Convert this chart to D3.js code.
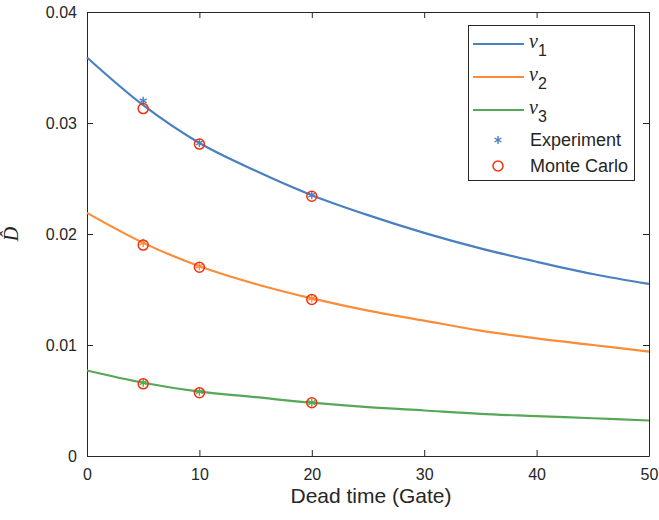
<!DOCTYPE html>
<html>
<head>
<meta charset="utf-8">
<script src="https://cdn.jsdelivr.net/npm/d3@7"></script>
<style>
  body { margin: 0; background: #fff; }
  text { font-family: "Liberation Sans", Arial, sans-serif; }
</style>
</head>
<body>
<div id="chart"></div>
<script>
// Data
var deadTime = [0, 5, 10, 15, 20, 25, 30, 35, 40, 45, 50];
var nu1 = [0.0359, 0.0316, 0.0282, 0.0257, 0.0235, 0.0217, 0.0201, 0.0187, 0.0175, 0.0164, 0.0155];
var nu2 = [0.0219, 0.0192, 0.0171, 0.0155, 0.0142, 0.0131, 0.0122, 0.0113, 0.0106, 0.0100, 0.0094];
var nu3 = [0.0077, 0.0066, 0.0058, 0.0053, 0.0048, 0.0044, 0.0041, 0.0038, 0.0036, 0.0034, 0.0032];

var gates = [5, 10, 20];
var expNu1 = [0.0320, 0.0282, 0.0235];
var expNu2 = [0.0192, 0.0171, 0.0142];
var expNu3 = [0.0066, 0.0058, 0.0048];
var mcNu1 = [0.0313, 0.0281, 0.0234];
var mcNu2 = [0.0190, 0.0170, 0.0141];
var mcNu3 = [0.0065, 0.0057, 0.0048];

var xTicks = [0, 10, 20, 30, 40, 50];
var yTicks = [0, 0.01, 0.02, 0.03, 0.04];

var colors = ["#4a80c0", "#fa8c3a", "#55a855"];
var red = "#f2300f";

var svgWidth = 659, svgHeight = 520;
var margin = { top: 12, right: 10, bottom: 64, left: 87 };
var width = 649 - margin.left;
var height = 456 - margin.top;

var svg = d3.select("#chart").append("svg")
    .attr("width", svgWidth)
    .attr("height", svgHeight);

var g = svg.append("g")
    .attr("transform", `translate(${margin.left}, ${margin.top})`);

var x = d3.scaleLinear().domain([0, 50]).range([0, width]);
var y = d3.scaleLinear().domain([0, 0.04]).range([height, 0]);

var axisColor = "#262626";
var tickFmt = d => d === 0 ? "0" : d3.format(".2f")(d);

// Axes (MATLAB style: ticks inside, box on)
var bottomAxis = g.append("g")
    .attr("transform", `translate(0, ${height})`)
    .call(d3.axisBottom(x).tickValues(xTicks).tickSizeInner(-6).tickSizeOuter(0).tickPadding(13));
var leftAxis = g.append("g")
    .call(d3.axisLeft(y).tickValues(yTicks).tickFormat(tickFmt).tickSizeInner(-6).tickSizeOuter(0).tickPadding(10));
var topAxis = g.append("g")
    .call(d3.axisTop(x).tickValues(xTicks).tickSizeInner(-6).tickSizeOuter(0).tickFormat(""));
var rightAxis = g.append("g")
    .attr("transform", `translate(${width}, 0)`)
    .call(d3.axisRight(y).tickValues(yTicks).tickSizeInner(-6).tickSizeOuter(0).tickFormat(""));

[bottomAxis, leftAxis, topAxis, rightAxis].forEach(a => {
    a.select(".domain").attr("stroke", axisColor).attr("stroke-width", 1);
    a.selectAll(".tick line").attr("stroke", axisColor);
    a.selectAll(".tick text").attr("fill", axisColor).style("font-size", "16px");
});

// Curves
var line = d3.line()
    .x(d => x(d[0]))
    .y(d => y(d[1]))
    .curve(d3.curveCatmullRom);

[nu1, nu2, nu3].forEach((s, i) => {
    g.append("path")
        .datum(deadTime.map((t, j) => [t, s[j]]))
        .attr("fill", "none")
        .attr("stroke", colors[i])
        .attr("stroke-width", 2.2)
        .attr("d", line);
});

// Experiment asterisks
var star = d3.symbol().type(d3.symbolAsterisk).size(45);
[expNu1, expNu2, expNu3].forEach((s, i) => {
    g.selectAll(null)
        .data(gates.map((t, j) => [t, s[j]]))
        .enter()
        .append("path")
        .attr("d", star)
        .attr("transform", d => `translate(${x(d[0])}, ${y(d[1])})`)
        .attr("fill", "none")
        .attr("stroke", colors[i])
        .attr("stroke-width", 1.4);
});

// Monte Carlo circles
[mcNu1, mcNu2, mcNu3].forEach(s => {
    g.selectAll(null)
        .data(gates.map((t, j) => [t, s[j]]))
        .enter()
        .append("circle")
        .attr("cx", d => x(d[0]))
        .attr("cy", d => y(d[1]))
        .attr("r", 5)
        .attr("fill", "none")
        .attr("stroke", red)
        .attr("stroke-width", 1.5);
});

// Axis labels
g.append("text")
    .attr("x", width / 2 + 3)
    .attr("y", height + 47)
    .attr("text-anchor", "middle")
    .attr("fill", axisColor)
    .style("font-size", "21px")
    .text("Dead time (Gate)");

svg.append("text")
    .attr("transform", `translate(18, ${margin.top + height / 2}) rotate(-90)`)
    .attr("text-anchor", "middle")
    .attr("fill", axisColor)
    .style("font-size", "20px")
    .style("font-family", "'Liberation Serif', serif")
    .style("font-style", "italic")
    .text("D\u0302");

// Legend
var legend = svg.append("g");
legend.append("rect")
    .attr("x", 468.5).attr("y", 25.5)
    .attr("width", 166).attr("height", 155)
    .attr("fill", "#fff")
    .attr("stroke", axisColor)
    .attr("stroke-width", 1);

var legendRows = [44, 77, 110];
legendRows.forEach((ry, i) => {
    legend.append("line")
        .attr("x1", 473).attr("x2", 524)
        .attr("y1", ry).attr("y2", ry)
        .attr("stroke", colors[i])
        .attr("stroke-width", 2.2);
    var t = legend.append("text")
        .attr("x", 529).attr("y", ry + 4)
        .attr("fill", axisColor);
    t.append("tspan")
        .style("font-family", "'Liberation Serif', serif")
        .style("font-style", "italic")
        .style("font-size", "20px")
        .text("\u03bd");
    t.append("tspan")
        .attr("dy", 8)
        .style("font-size", "16px")
        .text(i + 1);
});

legend.append("path")
    .attr("d", star)
    .attr("transform", "translate(498, 140)")
    .attr("fill", "none")
    .attr("stroke", colors[0])
    .attr("stroke-width", 1.4);
legend.append("text")
    .attr("x", 530).attr("y", 146)
    .attr("fill", axisColor)
    .style("font-size", "18px")
    .text("Experiment");

legend.append("circle")
    .attr("cx", 498).attr("cy", 166)
    .attr("r", 5)
    .attr("fill", "none")
    .attr("stroke", red)
    .attr("stroke-width", 1.5);
legend.append("text")
    .attr("x", 530).attr("y", 172)
    .attr("fill", axisColor)
    .style("font-size", "18px")
    .text("Monte Carlo");
</script>
</body>
</html>
